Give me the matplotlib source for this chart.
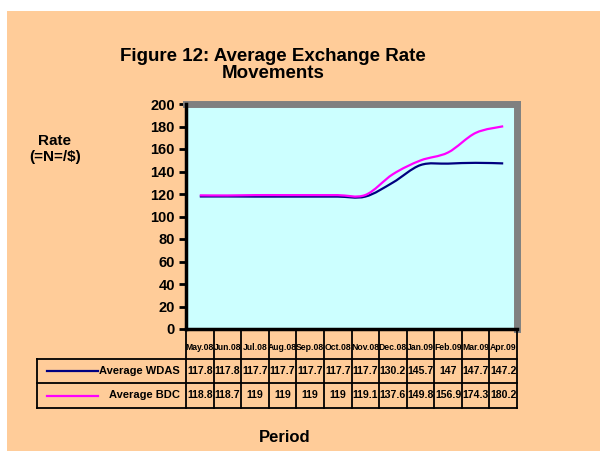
import matplotlib
matplotlib.use("Agg")
import matplotlib.pyplot as plt
from matplotlib.path import Path
from matplotlib.patches import PathPatch, Rectangle
import numpy as np

plt.rcParams['font.family'] = ['Liberation Sans', 'DejaVu Sans']

periods = ["May.08", "Jun.08", "Jul.08", "Aug.08", "Sep.08", "Oct.08",
           "Nov.08", "Dec.08", "Jan.09", "Feb.09", "Mar.09", "Apr.09"]
wdas = [117.8, 117.8, 117.7, 117.7, 117.7, 117.7, 117.7, 130.2, 145.7, 147.0, 147.7, 147.2]
bdc = [118.8, 118.7, 119, 119, 119, 119, 119.1, 137.6, 149.8, 156.9, 174.3, 180.2]
series_names = ["Average WDAS", "Average BDC"]
series_colors = ["#000080", "#FF00FF"]
yticks = [0, 20, 40, 60, 80, 100, 120, 140, 160, 180, 200]

W, H = 600, 451
fig = plt.figure(figsize=(6, 4.51), dpi=100)
fig.patch.set_facecolor("white")
fig.patches.append(Rectangle((7 / W, 0), 1, 1 - 11 / H, transform=fig.transFigure,
                             facecolor="#FFCC99", edgecolor="none", zorder=-10))

def fx(px):
    return px / W

def fy(py):
    return 1 - py / H

ax_l, ax_r, ax_t, ax_b = 186, 517, 104, 329
ax = fig.add_axes([fx(ax_l), fy(ax_b), fx(ax_r - ax_l), (ax_b - ax_t) / H])
ax.set_facecolor("#CCFFFF")
ax.set_xlim(-0.5, len(periods) - 0.5)
ax.set_ylim(0, 200)
ax.set_yticks(yticks)
ax.set_yticklabels([str(v) for v in yticks], fontsize=10.5, fontweight="bold")
ax.set_xticks([])
ax.tick_params(axis="y", length=5, width=2, direction="out", pad=3)
for s in ["top", "right"]:
    ax.spines[s].set_color("#808080")
    ax.spines[s].set_linewidth(5)
for s in ["left", "bottom"]:
    ax.spines[s].set_color("black")
    ax.spines[s].set_linewidth(2.5)
    ax.spines[s].set_zorder(5)


def smooth_path(xs, ys):
    pts = np.column_stack([xs, ys]).astype(float)
    n = len(pts)
    verts = [pts[0]]
    codes = [Path.MOVETO]
    for i in range(n - 1):
        p0 = pts[i - 1] if i > 0 else pts[i]
        p1 = pts[i]
        p2 = pts[i + 1]
        p3 = pts[i + 2] if i + 2 < n else pts[i + 1]
        c1 = p1 + (p2 - p0) / 6.0
        c2 = p2 - (p3 - p1) / 6.0
        verts += [c1, c2, p2]
        codes += [Path.CURVE4] * 3
    return Path(verts, codes)

x = np.arange(len(periods))
for vals, col in zip([wdas, bdc], series_colors):
    patch = PathPatch(smooth_path(x, vals), facecolor="none", edgecolor=col,
                      linewidth=1.6, transform=ax.transData, zorder=3)
    ax.add_patch(patch)

# data table beneath the axis
tab_top, tab_bot = ax_b, 408
tab = fig.add_axes([fx(ax_l), fy(tab_bot), fx(ax_r - ax_l), (tab_bot - tab_top) / H])
tab.set_xlim(-0.5, len(periods) - 0.5)
tab.set_ylim(tab_bot - tab_top, 0)
tab.axis("off")
col_w = (ax_r - ax_l) / len(periods)
leg_left = -0.5 - (ax_l - 37) / col_w
row_edges = [0, 30, 54, 79]
lk = dict(color="black", lw=1.3, clip_on=False)
for i in range(len(periods) + 1):
    tab.plot([i - 0.5, i - 0.5], [0, row_edges[-1]], **lk)
tab.plot([leg_left, leg_left], [row_edges[1], row_edges[-1]], **lk)
for r in row_edges[1:]:
    tab.plot([leg_left, len(periods) - 0.5], [r, r], **lk)

for i, p in enumerate(periods):
    tab.text(i, 18, p, ha="center", va="center", fontsize=6.2, fontweight="bold",
             clip_on=False)

for k, (vals, name, col) in enumerate(zip([wdas, bdc], series_names, series_colors)):
    yc = (row_edges[k + 1] + row_edges[k + 2]) / 2
    for i, v in enumerate(vals):
        tab.text(i, yc, f"{v:g}", ha="center", va="center", fontsize=7.6,
                 fontweight="bold", clip_on=False)
    tab.plot([-0.5 - (ax_l - 47) / col_w, -0.5 - (ax_l - 98) / col_w], [yc, yc],
             color=col, lw=1.6, clip_on=False)
    tab.text(-0.5 - (ax_l - 180) / col_w, yc, name, ha="right", va="center",
             fontsize=8, fontweight="bold", clip_on=False)

fig.text(fx(273), fy(65), "Figure 12: Average Exchange Rate\nMovements",
         ha="center", va="center", fontsize=13.5, fontweight="bold", linespacing=0.95)
fig.text(fx(55), fy(149), "Rate\n(=N=/$)", ha="center", va="center",
         fontsize=11, fontweight="bold", linespacing=1.1)
fig.text(fx(285), fy(438), "Period", ha="center", va="center",
         fontsize=12, fontweight="bold")

fig.savefig("out.png", dpi=100, facecolor=fig.get_facecolor())
